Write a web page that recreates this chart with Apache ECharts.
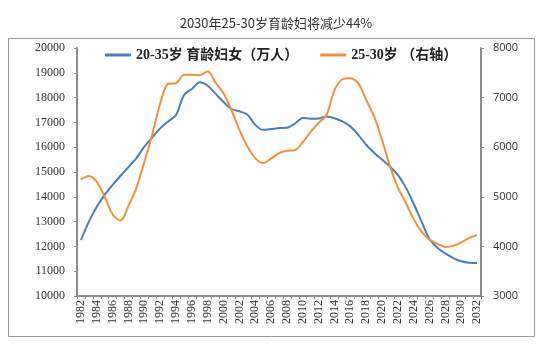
<!DOCTYPE html>
<html><head><meta charset="utf-8">
<script src="https://cdn.jsdelivr.net/npm/echarts@6/dist/echarts.min.js"></script>
<style>html,body{margin:0;padding:0;background:#fff}#c{width:552px;height:356px}</style>
</head><body><div id="c"></div>
<script>
const years = [];
for (let y = 1982; y <= 2032; y++) years.push(String(y));
const women2035 = [12250,13000,13600,14080,14480,14850,15200,15560,16020,16400,
  16760,17040,17300,18100,18350,18620,18480,18150,17820,17540,
  17450,17320,16900,16700,16730,16770,16780,16950,17180,17150,
  17160,17240,17170,17040,16840,16500,16100,15780,15500,15220,
  14880,14380,13720,13000,12300,11950,11720,11530,11400,11340,11330];
const women2530 = [5350,5420,5300,5000,4640,4520,4820,5180,5700,6260,
  6880,7280,7290,7460,7460,7450,7530,7300,7090,6750,
  6350,6020,5780,5680,5770,5880,5930,5940,6100,6310,
  6490,6650,7150,7370,7390,7290,6960,6620,6150,5620,
  5190,4880,4550,4300,4140,4050,3990,4010,4080,4170,4230];
const titleText = '2030年25-30岁育龄妇将减少44%';
const name1 = '20-35岁 育龄妇女（万人）';
const name2 = '25-30岁 （右轴）';

const chart = echarts.init(document.getElementById('c'));
chart.setOption({
  animation: false,
  backgroundColor: '#fff',
  title: {text: titleText, left: 'center', top: 12,
    textStyle: {fontSize: 13, fontWeight: 'normal', color: '#333', fontFamily: 'Noto Sans CJK SC'}},
  graphic: [{type: 'rect', shape: {x: 8.5, y: 38.5, width: 526, height: 298},
    style: {fill: 'none', stroke: '#9a9a9a', lineWidth: 1}, silent: true}],
  legend: {left: 100, top: 43, itemWidth: 26, itemHeight: 3, itemGap: 22, icon: 'rect',
    textStyle: {fontSize: 14, fontWeight: 'bold', color: '#222', fontFamily: 'Liberation Serif, Noto Sans CJK SC'},
    data: [name1, name2]},
  grid: {left: 77, right: 71, top: 48, bottom: 60},
  xAxis: {type: 'category', data: years, boundaryGap: true,
    axisLine: {lineStyle: {color: '#8c8c8c', width: 2}},
    axisTick: {show: true, interval: 0, length: 3, lineStyle: {color: '#8c8c8c'}},
    axisLabel: {interval: 1, rotate: 90, fontSize: 12, color: '#333', margin: 4,
      fontFamily: 'Liberation Serif'}},
  yAxis: [
    {type: 'value', min: 10000, max: 20000, interval: 1000, splitLine: {show: false},
      axisLine: {show: true, lineStyle: {color: '#8c8c8c', width: 2}},
      axisTick: {show: true, length: 3, lineStyle: {color: '#8c8c8c'}},
      axisLabel: {fontSize: 12, color: '#333', margin: 12, fontFamily: 'Liberation Serif',
        formatter: v => String(v)}},
    {type: 'value', min: 3000, max: 8000, interval: 1000, splitLine: {show: false},
      axisLine: {show: true, lineStyle: {color: '#8c8c8c', width: 2}},
      axisTick: {show: true, length: 3, lineStyle: {color: '#8c8c8c'}},
      axisLabel: {fontSize: 11, color: '#333', margin: 12, fontFamily: 'Open Sans',
        formatter: v => String(v)}}
  ],
  series: [
    {name: name1, type: 'line', data: women2035, yAxisIndex: 0, smooth: 0.3, symbol: 'none',
      lineStyle: {color: '#4a7ebb', width: 2}, itemStyle: {color: '#4a7ebb'}},
    {name: name2, type: 'line', data: women2530, yAxisIndex: 1, smooth: 0.3, symbol: 'none',
      lineStyle: {color: '#f0913c', width: 2}, itemStyle: {color: '#f0913c'}}
  ]
});
</script></body></html>
